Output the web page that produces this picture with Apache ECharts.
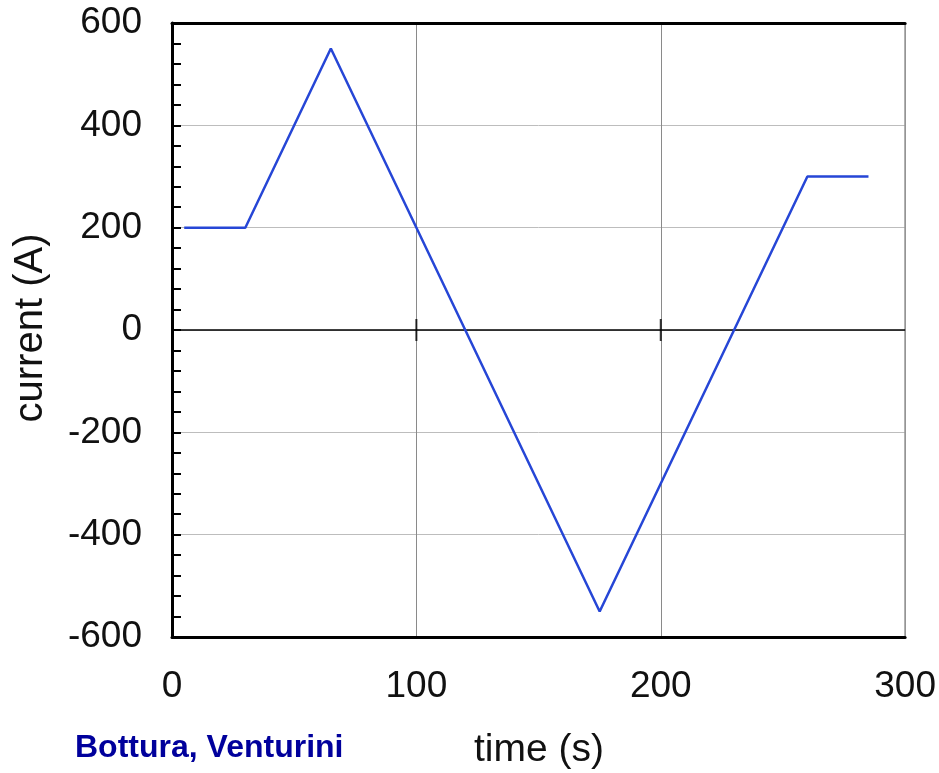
<!DOCTYPE html>
<html>
<head>
<meta charset="utf-8">
<script src="https://cdn.jsdelivr.net/npm/echarts@6/dist/echarts.min.js"></script>
<style>html,body{margin:0;padding:0;background:#fff;}#c{width:939px;height:773px;}</style>
</head>
<body>
<div id="c"></div>
<script>
// Data
var timeS = [5, 30, 65, 175, 260, 285];
var currentA = [200, 200, 550, -550, 300, 300];
var xTicks = [0, 100, 200, 300];
var yTicks = [-600, -400, -200, 0, 200, 400, 600];
var zeroTickX = [100, 200];

var chart = echarts.init(document.getElementById('c'), null, {renderer: 'canvas'});
var font = '"Liberation Sans", Arial, sans-serif';
var lineData = timeS.map(function (t, i) { return [t, currentA[i]]; });
var tickData = zeroTickX.map(function (t) { return [t, 0]; });

chart.setOption({
  animation: false,
  backgroundColor: '#fff',
  grid: {left: 172, top: 23, right: 33, bottom: 136, containLabel: false},
  xAxis: [{
    type: 'value', position: 'bottom',
    min: xTicks[0], max: xTicks[xTicks.length - 1], interval: 100,
    axisLine: {show: true, onZero: false, lineStyle: {color: '#000', width: 3}},
    axisTick: {show: false},
    axisLabel: {color: '#111', fontSize: 37, fontFamily: font, margin: 31},
    splitLine: {show: true, lineStyle: {color: '#8a8a8a', width: 1}}
  }, {
    type: 'value', position: 'top',
    min: xTicks[0], max: xTicks[xTicks.length - 1], interval: 100,
    axisLine: {show: true, onZero: false, lineStyle: {color: '#000', width: 3}},
    axisTick: {show: false}, axisLabel: {show: false}, splitLine: {show: false}
  }],
  yAxis: [{
    type: 'value', position: 'left',
    min: yTicks[0], max: yTicks[yTicks.length - 1], interval: 200,
    axisLine: {show: true, onZero: false, lineStyle: {color: '#000', width: 3}},
    axisTick: {show: true, inside: true, length: 9, lineStyle: {color: '#000', width: 2}},
    minorTick: {show: true, splitNumber: 5, length: 9, lineStyle: {color: '#000', width: 2}},
    axisLabel: {color: '#111', fontSize: 37, fontFamily: font, margin: 30},
    splitLine: {show: true, lineStyle: {color: '#bdbdbd', width: 1}}
  }, {
    type: 'value', position: 'right',
    min: yTicks[0], max: yTicks[yTicks.length - 1], interval: 200,
    axisLine: {show: true, onZero: false, lineStyle: {color: '#999', width: 1.5}},
    axisTick: {show: false}, axisLabel: {show: false}, splitLine: {show: false}
  }],
  graphic: [{
    type: 'text', x: 75, y: 748,
    style: {text: 'Bottura, Venturini', fill: '#00009c', font: 'bold 32px ' + font, verticalAlign: 'middle'}
  }, {
    type: 'text', x: 539, y: 750,
    style: {text: 'time (s)', fill: '#111', font: '39px ' + font, align: 'center', verticalAlign: 'middle'}
  }, {
    type: 'text', x: 31, y: 328, rotation: Math.PI / 2,
    style: {text: 'current (A)', fill: '#111', font: '40px ' + font, align: 'center', verticalAlign: 'middle'}
  }],
  series: [{
    type: 'line', data: lineData, showSymbol: false, symbol: 'none',
    lineStyle: {color: '#2646d6', width: 2.5},
    z: 5,
    markLine: {
      silent: true, symbol: 'none', label: {show: false},
      lineStyle: {color: '#000', width: 1.5, type: 'solid'},
      data: [{yAxis: 0}]
    }
  }, {
    type: 'scatter', data: tickData, symbol: 'rect', symbolSize: [2, 22],
    itemStyle: {color: '#000'}, silent: true, z: 4
  }]
});
</script>
</body>
</html>
